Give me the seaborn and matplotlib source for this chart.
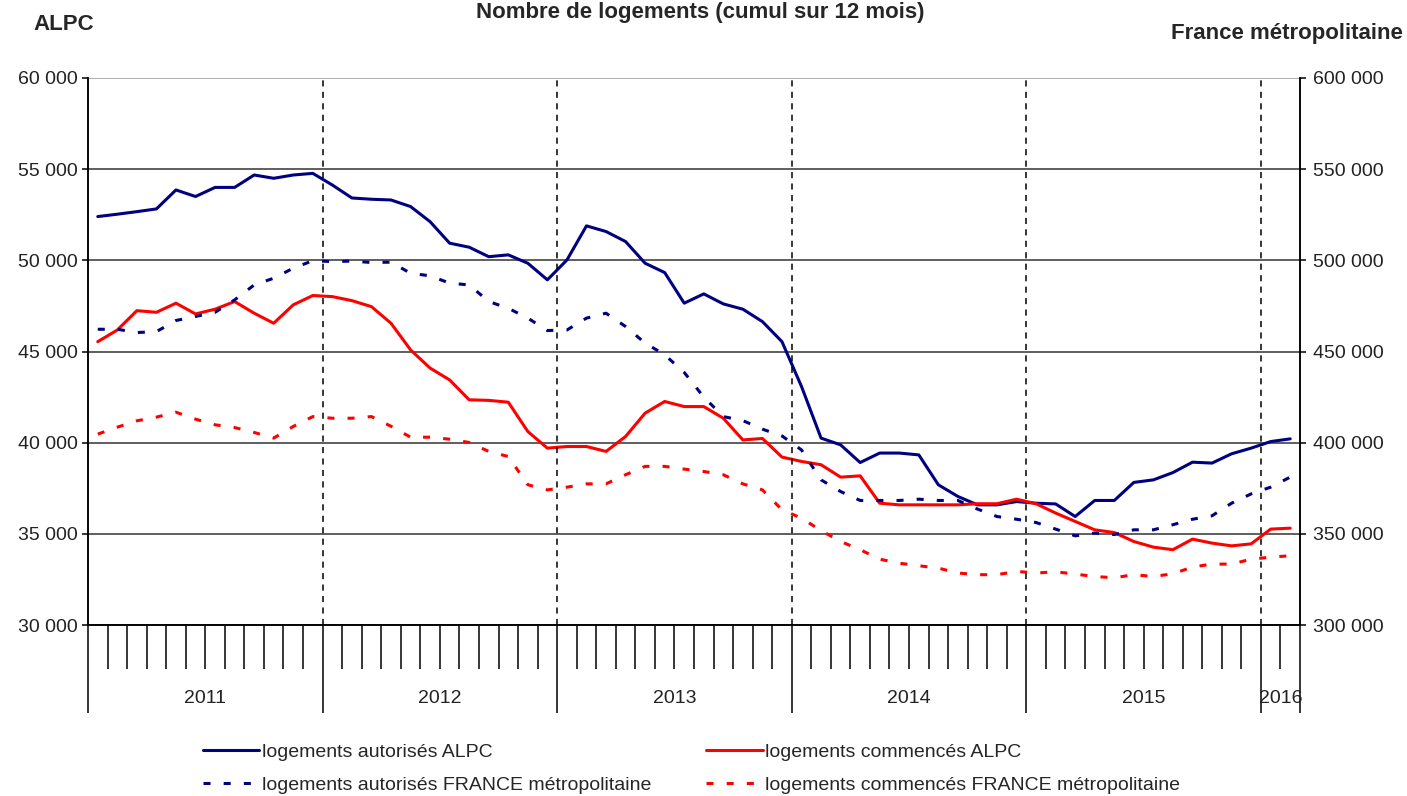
"""
Nombre de logements (cumul sur 12 mois) - ALPC vs France métropolitaine
"""
import numpy as np
import pandas as pd
import matplotlib
matplotlib.use("Agg")
import matplotlib.pyplot as plt
import matplotlib.transforms as mtransforms
from matplotlib.lines import Line2D
import seaborn as sns

# monthly values, Jan 2011 -> Feb 2016
years = ["2011", "2012", "2013", "2014", "2015", "2016"]

aut_alpc = [52400, 52530, 52670, 52820, 53860, 53500, 54000, 54000, 54680, 54500, 54680, 54770,
            54130, 53420, 53350, 53310, 52950, 52120, 50940, 50720, 50200, 50300, 49840, 48930,
            50020, 51890, 51580, 51030, 49840, 49330, 47650, 48160, 47610, 47320, 46640, 45540,
            43080, 40250, 39880, 38910, 39430, 39430, 39330, 37690, 37050, 36590, 36590, 36770,
            36680, 36640, 35950, 36830, 36830, 37820, 37960, 38360, 38930, 38880, 39390, 39700,
            40060, 40210]

com_alpc = [45540, 46180, 47240, 47150, 47650, 47060, 47320, 47740, 47100, 46550, 47560, 48070,
            48010, 47790, 47460, 46550, 45090, 44090, 43440, 42350, 42320, 42220, 40610, 39700,
            39790, 39790, 39520, 40340, 41620, 42260, 41980, 41980, 41340, 40150, 40230, 39210,
            38970, 38790, 38110, 38180, 36680, 36590, 36590, 36590, 36590, 36650, 36650, 36900,
            36650, 36140, 35680, 35220, 35070, 34580, 34270, 34130, 34710, 34490, 34340, 34450,
            35260, 35310]

aut_fr = [462200, 462200, 460400, 460900, 467000, 469200, 471500, 478300, 486500, 490200, 495700, 499800,
          499300, 499600, 498800, 499000, 492900, 491500, 487500, 486500, 477400, 473700, 468300, 461500,
          461800, 468300, 471000, 463700, 454600, 448200, 438500, 425000, 414300, 412100, 407400, 403700,
          396000, 379600, 373200, 368300, 368300, 368300, 369000, 368300, 368300, 363600, 359500, 358000,
          356200, 352600, 348900, 350400, 349600, 352200, 352200, 355000, 358000, 359900, 366800, 371900,
          375600, 381100]

com_fr = [404700, 408500, 412000, 414000, 416700, 412900, 409800, 408300, 405600, 402500, 408900, 414300,
          413400, 413400, 414300, 409000, 403000, 403000, 401900, 400100, 395200, 392400, 376900, 374100,
          375600, 377400, 377400, 382400, 387000, 387000, 385500, 384200, 382400, 377400, 374100, 363200,
          358600, 351800, 345800, 341300, 336100, 333900, 332500, 331200, 328500, 327600, 327600, 329400,
          328500, 329200, 327900, 326600, 325900, 327600, 326600, 328100, 331800, 333400, 333400, 336100,
          337200, 338000]

labels = ["logements autorisés ALPC",
          "logements autorisés FRANCE métropolitaine",
          "logements commencés ALPC",
          "logements commencés FRANCE métropolitaine"]

NAVY = "#000080"
RED = "#ff0000"
DASH = (0, (2.3, 4.3))

df = pd.DataFrame({
    "mois": np.arange(len(aut_alpc)) + 0.5,
    "aut_alpc": aut_alpc,
    "com_alpc": com_alpc,
    "aut_fr": aut_fr,
    "com_fr": com_fr,
})
n_months = len(df)

sns.set_theme(style="white")
plt.rcParams["font.family"] = ["Liberation Sans", "DejaVu Sans"]

fig = plt.figure(figsize=(14.07, 7.96), dpi=100)
ax = fig.add_axes([88 / 1407, 1 - 625 / 796, (1300 - 88) / 1407, (625 - 78) / 796])
ax2 = ax.twinx()


def fmt(v):
    return f"{int(v):,}".replace(",", " ")


# left axis: ALPC
sns.lineplot(data=df, x="mois", y="aut_alpc", ax=ax, color=NAVY, lw=2.2)
sns.lineplot(data=df, x="mois", y="com_alpc", ax=ax, color=RED, lw=2.2)
ax.set_xlim(0, n_months)
ax.set_ylim(30000, 60000)
left_ticks = np.arange(30000, 60001, 5000)
ax.set_yticks(left_ticks)
ax.set_yticklabels([fmt(v) for v in left_ticks])
ax.grid(axis="y", color="#333333", lw=1.1)
ax.grid(axis="x", visible=False)
ax.set_xlabel("")
ax.set_ylabel("")
# top line is lighter in the original
ax.get_ygridlines()[-1].set_color("#999999")

# right axis: France
sns.lineplot(data=df, x="mois", y="aut_fr", ax=ax2, color=NAVY, lw=2.2, linestyle=DASH)
sns.lineplot(data=df, x="mois", y="com_fr", ax=ax2, color=RED, lw=2.2, linestyle=DASH)
ax2.set_ylim(300000, 600000)
right_ticks = np.arange(300000, 600001, 50000)
ax2.set_yticks(right_ticks)
ax2.set_yticklabels([fmt(v) for v in right_ticks])
ax2.grid(False)
ax2.set_ylabel("")

# x axis: months / years
year_bounds = list(range(0, n_months, 12)) + [n_months]
ax.set_xticks(year_bounds)
ax.set_xticklabels([])
ax.set_xticks(np.arange(0, n_months + 1), minor=True)
ax.tick_params(axis="x", which="major", length=63, width=1.1, color="black", direction="out",
               bottom=True)
ax.tick_params(axis="x", which="minor", length=31.5, width=1.1, color="black", direction="out",
               bottom=True)
ax.tick_params(axis="y", length=4.5, width=1.1, color="black", direction="out",
               labelsize=14, labelcolor="#222222", pad=3, left=True)
ax2.tick_params(axis="y", length=4.5, width=1.1, color="black", direction="out",
                labelsize=14, labelcolor="#222222", pad=5, right=True)

for b in year_bounds[1:-1]:
    ax.axvline(b, color="black", lw=1.1, ls=(0, (4, 3.5)))

trans = mtransforms.blended_transform_factory(ax.transData, ax.transAxes)
for i, y in enumerate(years):
    x0 = year_bounds[i]
    x1 = year_bounds[i + 1]
    ax.text((x0 + x1) / 2, -0.135, y, transform=trans, ha="center", va="center",
            fontsize=14, color="#222222")

for a in (ax, ax2):
    a.spines["top"].set_visible(False)
    for s in ("left", "right", "bottom"):
        a.spines[s].set_color("black")
        a.spines[s].set_linewidth(1.1)

# titles
fig.text(700 / 1407, 1 - 2 / 796, "Nombre de logements (cumul sur 12 mois)",
         ha="center", va="top", fontsize=16, fontweight="bold")
fig.text(33 / 1407, 1 - 25 / 796, "ALPC", ha="left", va="center",
         fontsize=16, fontweight="bold")
fig.text(1403 / 1407, 1 - 33 / 796, "France métropolitaine", ha="right", va="center",
         fontsize=16, fontweight="bold")

# legend
handles = [
    Line2D([], [], color=NAVY, lw=2.2),
    Line2D([], [], color=NAVY, lw=2.2, linestyle=DASH),
    Line2D([], [], color=RED, lw=2.2),
    Line2D([], [], color=RED, lw=2.2, linestyle=DASH),
]
fig.legend(handles, labels, ncol=2, loc="upper left",
           bbox_to_anchor=(203 / 1407, 1 - 743 / 796), frameon=False,
           fontsize=14, handlelength=2.9, handletextpad=0.15, columnspacing=2.8,
           labelspacing=0.8, borderpad=0, borderaxespad=0)

fig.savefig("out.png", dpi=100)
